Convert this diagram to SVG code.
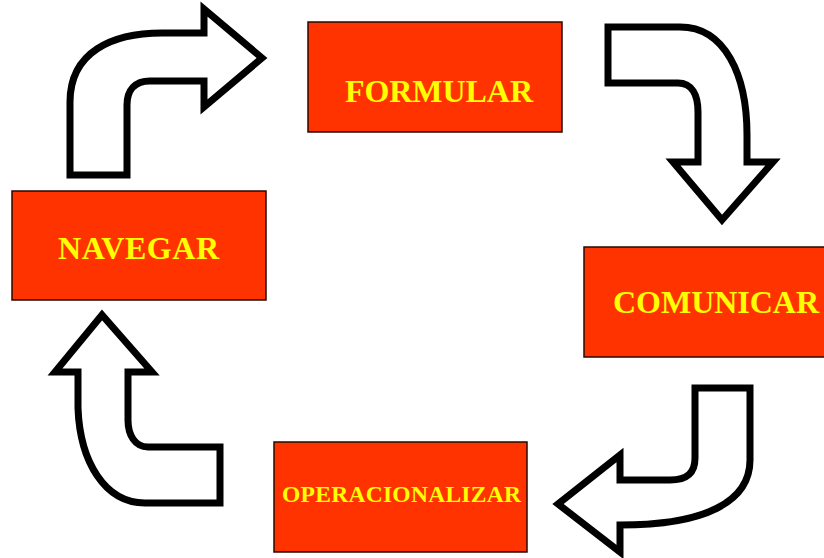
<svg xmlns="http://www.w3.org/2000/svg" width="824" height="558" viewBox="0 0 824 558">
<style>
.box{fill:#FF3300;stroke:#2a0800;stroke-width:1.5}
.lbl{font-family:"Liberation Serif","Times New Roman",serif;font-weight:bold;fill:#FFFF00}
.arr{fill:#FFFFFF;stroke:#000000;stroke-width:7;stroke-linejoin:miter;stroke-miterlimit:10}
</style>
<rect width="824" height="558" fill="#FFFFFF"/>
<g id="connectors">
<path class="arr" d="M70,175 L70,102 C70,52 112,33 162,33 L204,33 L204,9 L262,58 L204,107 L204,81 L150,81 C135,81 127,90 127,105 L127,175 Z"/>
<path class="arr" d="M608,27 L680,27 C725,27 747,75 747,135 L747,162 L773,162 L722,220 L673,162 L698,162 L698,112 C698,95 692,83 678,83 L608,83 Z"/>
<path class="arr" d="M695,388 L750,388 L750,460 C750,502 705,525 620,525 L620,552 L558,504 L620,455 L620,480 L670,480 C688,480 695,472 695,458 Z"/>
<path class="arr" d="M220,503 L220,447 L148,447 C135,447 128,435 128,420 L128,372 L152,372 L102,315 L55,372 L78,372 L78,408 C80,462 105,503 145,503 Z"/>
</g>
<g id="formular">
<rect class="box" x="308" y="22" width="254" height="110"/>
<text class="lbl" x="345" y="102" font-size="32" textLength="188" lengthAdjust="spacing">FORMULAR</text>
</g>
<g id="navegar">
<rect class="box" x="12" y="191" width="254" height="109"/>
<text class="lbl" x="58" y="259" font-size="32" textLength="161" lengthAdjust="spacing">NAVEGAR</text>
</g>
<g id="comunicar">
<rect class="box" x="584" y="247" width="250" height="110"/>
<text class="lbl" x="613" y="313" font-size="32" textLength="206" lengthAdjust="spacing">COMUNICAR</text>
</g>
<g id="operacionalizar">
<rect class="box" x="274" y="442" width="253" height="110"/>
<text class="lbl" x="282" y="502" font-size="23.5" textLength="239" lengthAdjust="spacing">OPERACIONALIZAR</text>
</g>
</svg>
